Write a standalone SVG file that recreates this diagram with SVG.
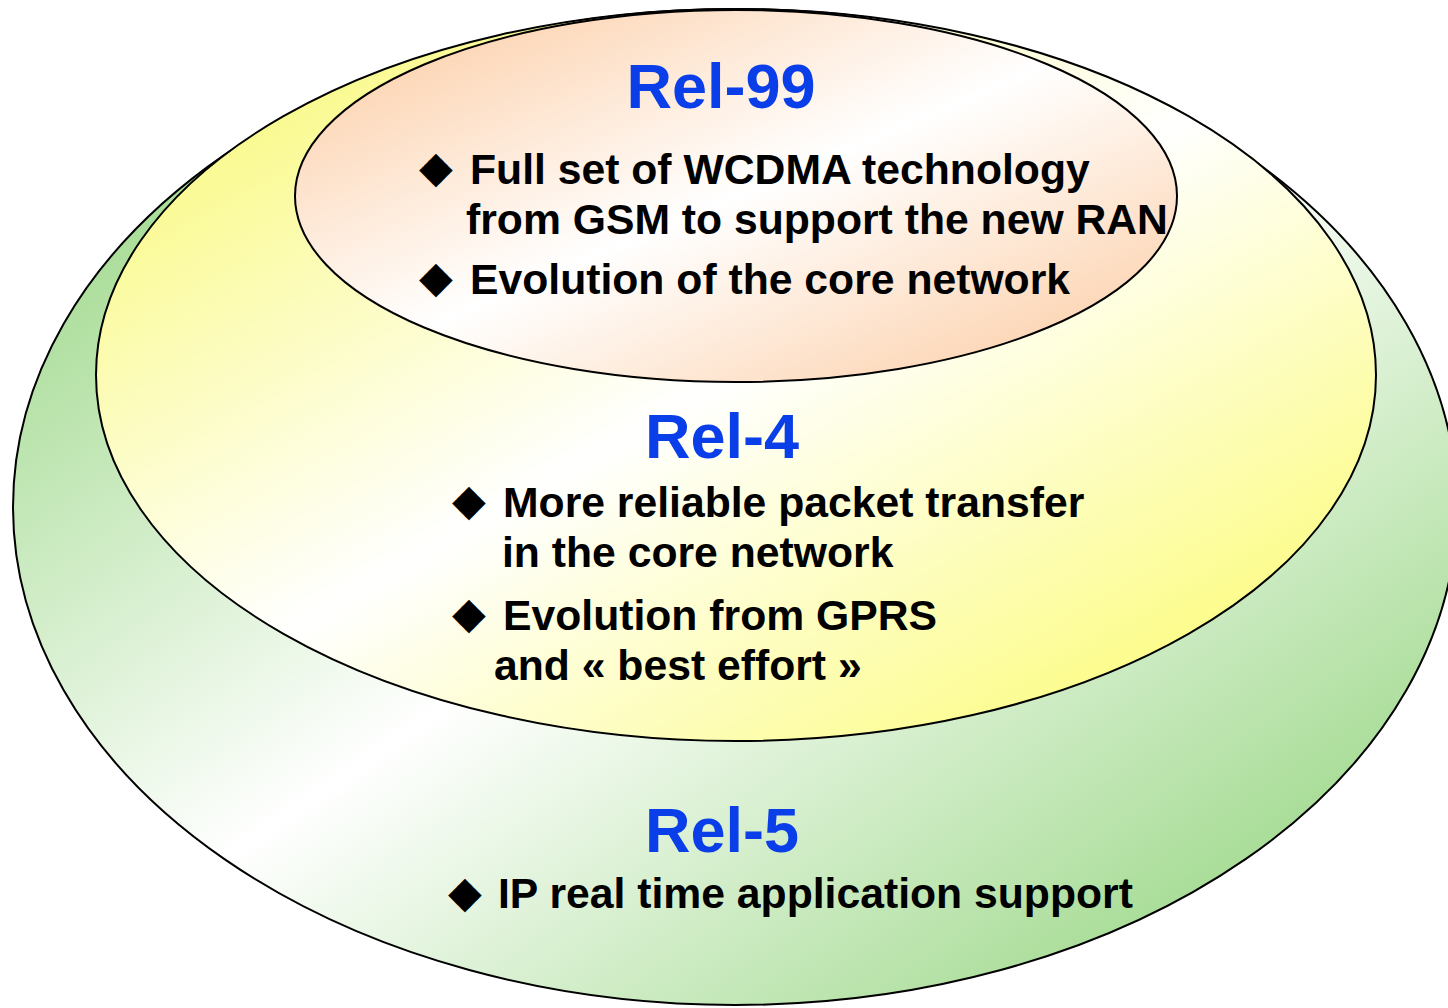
<svg xmlns="http://www.w3.org/2000/svg" width="1448" height="1008" viewBox="0 0 1448 1008">
  <defs>
    <!-- diagonal two-tone fills: colour at the corners, white through the middle -->
    <linearGradient id="gGreen" x1="0" y1="0" x2="1" y2="1">
      <stop offset="0" stop-color="#86cf6e"/>
      <stop offset="0.5" stop-color="#ffffff"/>
      <stop offset="1" stop-color="#86cf6e"/>
    </linearGradient>
    <linearGradient id="gYellow" x1="0" y1="0" x2="1" y2="1">
      <stop offset="0" stop-color="#f8f866"/>
      <stop offset="0.5" stop-color="#ffffff"/>
      <stop offset="1" stop-color="#fbfb5e"/>
    </linearGradient>
    <linearGradient id="gPeach" x1="0" y1="0" x2="1" y2="1">
      <stop offset="0" stop-color="#fcc89c"/>
      <stop offset="0.5" stop-color="#ffffff"/>
      <stop offset="1" stop-color="#fcc89c"/>
    </linearGradient>
  </defs>
  <style>
    .ring { stroke: #000000; stroke-width: 2; }
    .title { font-family: "Liberation Sans", Arial, sans-serif; font-weight: bold; font-size: 63px; fill: #0a3ee8; text-anchor: middle; }
    .item { font-family: "Liberation Sans", Arial, sans-serif; font-weight: bold; font-size: 42.7px; fill: #000000; }
    .bullet { font-family: "DejaVu Sans", sans-serif; font-size: 44px; fill: #000000; text-anchor: middle; }
  </style>

  <rect width="1448" height="1008" fill="#ffffff"/>

  <!-- Release 5: outermost layer -->
  <g id="rel5">
    <ellipse class="ring" cx="735" cy="507" rx="722" ry="498" fill="url(#gGreen)"/>
    <text class="title" x="722" y="852">Rel-5</text>
    <text class="bullet" x="465" y="907">◆</text>
    <text class="item" x="498" y="908">IP real time application support</text>
  </g>

  <!-- Release 4: middle layer -->
  <g id="rel4">
    <ellipse class="ring" cx="736" cy="375" rx="640" ry="366" fill="url(#gYellow)"/>
    <text class="title" x="722" y="458">Rel-4</text>
    <text class="bullet" x="469" y="515">◆</text>
    <text class="item" x="503" y="517">More reliable packet transfer</text>
    <text class="item" x="502" y="567">in the core network</text>
    <text class="bullet" x="469" y="628">◆</text>
    <text class="item" x="503" y="630">Evolution from GPRS</text>
    <text class="item" x="494" y="680">and « best effort »</text>
  </g>

  <!-- Release 99: innermost layer -->
  <g id="rel99">
    <ellipse class="ring" cx="736" cy="196" rx="441" ry="186" fill="url(#gPeach)"/>
    <text class="title" x="721" y="108">Rel-99</text>
    <text class="bullet" x="436" y="182">◆</text>
    <text class="item" x="470" y="184">Full set of WCDMA technology</text>
    <text class="item" x="466" y="234">from GSM to support the new RAN</text>
    <text class="bullet" x="436" y="292">◆</text>
    <text class="item" x="470" y="294">Evolution of the core network</text>
  </g>
</svg>
